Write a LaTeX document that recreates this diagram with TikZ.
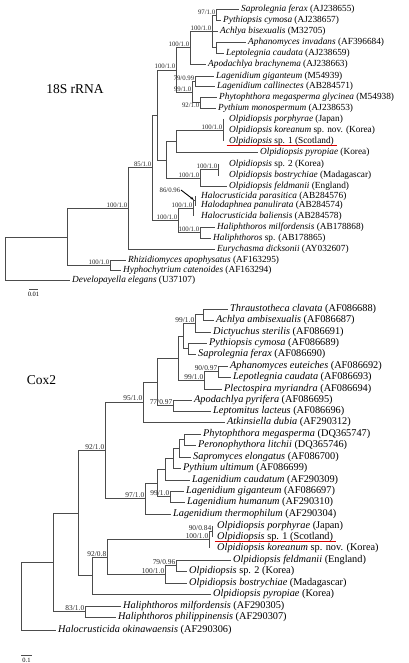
\documentclass[tikz,border=0pt]{standalone}
\usepackage{fontspec}
\setmainfont{Liberation Serif}
\usetikzlibrary{arrows.meta}

\begin{document}
\begin{tikzpicture}[x=1pt, y=-1pt,
  br/.style = {draw=black!70, line width=0.55pt},
  taxon/.style = {anchor=west, inner xsep=2.5pt, inner ysep=0pt,
    font=\fontsize{9.3}{11}\selectfont},
  cox/.style = {taxon, font=\fontsize{10.3}{12}\selectfont},
  bs/.style = {anchor=south east, inner sep=0.6pt, text=black!85,
    font=\fontsize{6.8}{8}\selectfont},
  bsc/.style = {bs, font=\fontsize{7.4}{8}\selectfont},
  gene/.style = {font=\fontsize{13.5}{16}\selectfont},
  scl/.style = {font=\fontsize{6.5}{8}\selectfont},
  hilite/.style = {draw=red!85!black, line width=0.6pt}]
\useasboundingbox (0,0) rectangle (408,663);

% ---- 18S rRNA tree ----
\node[gene] (g18) at (75,89) {18S rRNA};

\node[taxon] (sap) at (238.5,9.5) {\textit{Saprolegnia ferax} (AJ238655)};
\node[taxon] (pyt) at (220.5,20.5) {\textit{Pythiopsis cymosa} (AJ238657)};
\node[taxon] (ach) at (217.5,31) {\textit{Achlya bisexualis} (M32705)};
\node[taxon] (aph) at (245.5,42.5) {\textit{Aphanomyces invadans} (AF396684)};
\node[taxon] (lep) at (223.5,53) {\textit{Leptolegnia caudata} (AJ238659)};
\node[taxon] (apo) at (205.5,64) {\textit{Apodachlya brachynema} (AJ238663)};
\node[taxon] (lgi) at (213.5,76) {\textit{Lagenidium giganteum} (M54939)};
\node[taxon] (lca) at (214.5,86.5) {\textit{Lagenidium callinectes} (AB284571)};
\node[taxon] (phy) at (216.5,97) {\textit{Phytophthora megasperma glycinea} (M54938)};
\node[taxon] (pmo) at (215.5,108) {\textit{Pythium monospermum} (AJ238653)};
\node[taxon] (opo) at (226.5,119) {\textit{Olpidiopsis porphyrae} (Japan)};
\node[taxon] (oko) at (226.5,130.5) {\textit{Olpidiopsis koreanum} sp. nov. (Korea)};
\node[taxon] (os1) at (226.5,141.5) {\textit{Olpidiopsis} sp. 1 (Scotland)};
\node[taxon] (opy) at (257.5,152.5) {\textit{Olpidiopsis pyropiae} (Korea)};
\node[taxon] (os2) at (226.5,164) {\textit{Olpidiopsis} sp. 2 (Korea)};
\node[taxon] (obo) at (226.5,175.5) {\textit{Olpidiopsis bostrychiae} (Madagascar)};
\node[taxon] (ofe) at (226.5,186.5) {\textit{Olpidiopsis feldmanii} (England)};
\node[taxon] (hpa) at (198.5,196) {\textit{Halocrusticida parasitica} (AB284576)};
\node[taxon] (hdp) at (198.5,205.5) {\textit{Halodaphnea panulirata} (AB284574)};
\node[taxon] (hba) at (198.5,216) {\textit{Halocrusticida baliensis} (AB284578)};
\node[taxon] (hmi) at (214.5,227) {\textit{Haliphthoros milfordensis} (AB178868)};
\node[taxon] (hsp) at (210.5,238) {\textit{Haliphthoros} sp. (AB178865)};
\node[taxon] (eur) at (214.5,249.5) {\textit{Eurychasma dicksonii} (AY032607)};
\node[taxon] (rhi) at (125.5,260) {\textit{Rhizidiomyces apophysatus} (AF163295)};
\node[taxon] (hyp) at (120.5,270) {\textit{Hyphochytrium catenoides} (AF163294)};
\node[taxon] (dev) at (69.5,280) {\textit{Developayella elegans} (U37107)};

\coordinate (r18) at (5,258.4);
\coordinate (x18) at (67,236.8);
\coordinate (rh) at (110,265);
\coordinate (y18) at (128,208.5);
\coordinate (z18) at (152,167.6);
\coordinate (w18) at (157,114.8);
\coordinate (v18) at (176,69.8);
\coordinate (s1) at (190,47.7);
\coordinate (a1) at (212,31.4);
\coordinate (a2) at (216,15);
\coordinate (al) at (216,47.75);
\coordinate (lp) at (192,91.9);
\coordinate (lg) at (195,81.25);
\coordinate (pp) at (200,102.5);
\coordinate (olp) at (166,159.8);
\coordinate (oa) at (176,141.4);
\coordinate (opk) at (223,130.25);
\coordinate (ob) at (200,178.1);
\coordinate (osb) at (218,169.75);
\coordinate (halo) at (178,220.4);
\coordinate (hh) at (193,208.4);
\coordinate (hp) at (195,200.75);
\coordinate (hl) at (200,232.5);

\foreach \p/\c in {r18/x18, x18/y18, x18/rh, y18/z18, z18/w18, z18/halo,
    w18/v18, w18/olp, v18/s1, v18/lp, s1/a1, a1/a2, a1/al, lp/lg, lp/pp,
    olp/oa, olp/ob, oa/opk, ob/osb, halo/hh, halo/hl, hh/hp}
  \draw[br] (\p) |- (\c);
\foreach \p/\c in {a2/sap, a2/pyt, a1/ach, al/aph, al/lep, s1/apo, lg/lgi,
    lg/lca, pp/phy, pp/pmo, oa/opy, ob/ofe, hl/hmi, hl/hsp, y18/eur,
    rh/rhi, rh/hyp, r18/dev}
  \draw[br] (\p) |- (\c.west);
\draw[br] (opk |- opo.west) -- (opk |- os1.west);
\draw[br] (osb |- os2.west) -- (osb |- obo.west);
\draw[br] (hp |- hpa.west) -- (hp |- hdp.west);
\draw[br] (hh) -- (hh |- hba.west);
\draw[hilite] ([yshift=-1.4pt]os1.base west) -- ([yshift=-1.4pt]os1.base east);

\node[bs] at (a2) {97/1.0};
\node[bs] at (a1) {100/1.0};
\node[bs] at (s1) {100/1.0};
\node[bs] at (v18) {100/1.0};
\node[bs] at (lg) {79/0.99};
\node[bs] at (lp) {99/1.0};
\node[bs, anchor=north east] at (pp) {92/1.0};
\node[bs] at (opk) {100/1.0};
\node[bs] at (osb) {100/1.0};
\node[bs] at (ob) {100/1.0};
\node[bs, anchor=east] (b86) at (181,190) {86/0.96};
\draw[-{Stealth[length=3.5pt,width=2.6pt]}, line width=0.9pt, shorten >=1.5pt]
  (b86.east) -- (hp);
\node[bs] at (hh) {100/1.0};
\node[bs] at (halo) {100/1.0};
\node[bs] at (hl) {100/1.0};
\node[bs] at (z18) {85/1.0};
\node[bs] at (y18) {100/1.0};
\node[bs] at (rh) {100/1.0};

\coordinate (bar1a) at (29,289);
\coordinate (bar1b) at (38,289);
\draw[br] (bar1a) -- (bar1b);
\node[scl] (sc18) at (33.5,294.5) {0.01};

% ---- Cox2 tree ----
\node[gene] (gcox) at (41.5,380) {Cox2};

\node[cox] (tcl) at (227.5,309) {\textit{Thraustotheca clavata} (AF086688)};
\node[cox] (aam) at (213.5,320) {\textit{Achlya ambisexualis} (AF086687)};
\node[cox] (dst) at (210.5,332) {\textit{Dictyuchus sterilis} (AF086691)};
\node[cox] (pcy) at (206.5,343) {\textit{Pythiopsis cymosa} (AF086689)};
\node[cox] (sfe) at (195.5,354) {\textit{Saprolegnia ferax} (AF086690)};
\node[cox] (aeu) at (227.5,366) {\textit{Aphanomyces euteiches} (AF086692)};
\node[cox] (lcn) at (230.5,377) {\textit{Lepotlegnia caudata} (AF086693)};
\node[cox] (pmy) at (221.5,389) {\textit{Plectospira myriandra} (AF086694)};
\node[cox] (apy) at (191.5,400) {\textit{Apodachlya pyrifera} (AF086695)};
\node[cox] (lla) at (210.5,411) {\textit{Leptomitus lacteus} (AF086696)};
\node[cox] (adu) at (224.5,422) {\textit{Atkinsiella dubia} (AF290312)};
\node[cox] (pme) at (200.5,434) {\textit{Phytophthora megasperma} (DQ365747)};
\node[cox] (pli) at (195.5,445) {\textit{Peronophythora litchii} (DQ365746)};
\node[cox] (sel) at (190.5,457) {\textit{Sapromyces elongatus} (AF086700)};
\node[cox] (pul) at (180.5,468) {\textit{Pythium ultimum} (AF086699)};
\node[cox] (lcd) at (189.5,480) {\textit{Lagenidium caudatum} (AF290309)};
\node[cox] (lgg) at (183.5,491) {\textit{Lagenidium giganteum} (AF086697)};
\node[cox] (lhu) at (184.5,502) {\textit{Lagenidium humanum} (AF290310)};
\node[cox] (lth) at (170.5,514) {\textit{Lagenidium thermophilum} (AF290304)};
\node[cox] (cpo) at (214.5,526) {\textit{Olpidiopsis porphyrae} (Japan)};
\node[cox] (cs1) at (214.5,537) {\textit{Olpidiopsis} sp. 1 (Scotland)};
\node[cox] (cko) at (214.5,548) {\textit{Olpidiopsis koreanum} sp. nov. (Korea)};
\node[cox] (cfe) at (230.5,560) {\textit{Olpidiopsis feldmanii} (England)};
\node[cox] (cs2) at (186.5,571) {\textit{Olpidiopsis} sp. 2 (Korea)};
\node[cox] (cbo) at (186.5,583) {\textit{Olpidiopsis bostrychiae} (Madagascar)};
\node[cox] (cpy) at (210.5,594) {\textit{Olpidiopsis pyropiae} (Korea)};
\node[cox] (cmi) at (120.5,606) {\textit{Haliphthoros milfordensis} (AF290305)};
\node[cox] (cph) at (115.5,617) {\textit{Haliphthoros philippinensis} (AF290307)};
\node[cox] (cok) at (55.5,630) {\textit{Halocrusticida okinawaensis} (AF290306)};

\coordinate (r2) at (21,596.1);
\coordinate (sc7) at (53,562.2);
\coordinate (sc6) at (78,512.9);
\coordinate (sc5) at (105,450.2);
\coordinate (sc4) at (143,401.9);
\coordinate (sc3) at (157,381.8);
\coordinate (sc2) at (178,358.1);
\coordinate (sc1) at (183,335.9);
\coordinate (tad) at (195,323.25);
\coordinate (tha) at (203,314.5);
\coordinate (psa) at (188,348.5);
\coordinate (alpl) at (204,380.25);
\coordinate (alp) at (218,371.5);
\coordinate (alt) at (173,405.5);
\coordinate (ps1) at (145,498.4);
\coordinate (ps2) at (157,482.8);
\coordinate (ps3) at (165,469.1);
\coordinate (ps4) at (173,458.1);
\coordinate (ps5) at (179,448.25);
\coordinate (pph) at (184,439.5);
\coordinate (lgh) at (170,496.5);
\coordinate (cod) at (92,575.5);
\coordinate (coc) at (107,557);
\coordinate (cok2) at (209,539.75);
\coordinate (cps) at (212,531.5);
\coordinate (cob) at (165,574.25);
\coordinate (cfs) at (176,565.5);
\coordinate (chh) at (85,611.5);

\foreach \p/\c in {r2/sc7, sc7/sc6, sc7/chh, sc6/sc5, sc6/cod, sc5/sc4,
    sc5/ps1, sc4/sc3, sc3/sc2, sc3/alt, sc2/sc1, sc2/alpl, sc1/tad, sc1/psa,
    tad/tha, alpl/alp, ps1/ps2, ps2/ps3, ps2/lgh, ps3/ps4, ps4/ps5, ps5/pph,
    cod/coc, coc/cok2, coc/cob, cok2/cps, cob/cfs}
  \draw[br] (\p) |- (\c);
\foreach \p/\c in {tha/tcl, tha/aam, tad/dst, psa/pcy, psa/sfe, alp/aeu,
    alp/lcn, alpl/pmy, alt/apy, alt/lla, sc4/adu, pph/pme, pph/pli, ps5/sel,
    ps4/pul, ps3/lcd, lgh/lgg, lgh/lhu, ps1/lth, cfs/cfe, cfs/cs2, cob/cbo,
    cod/cpy, chh/cmi, chh/cph, r2/cok}
  \draw[br] (\p) |- (\c.west);
\draw[br] (cps |- cpo.west) -- (cps |- cs1.west);
\draw[br] (cok2) -- (cok2 |- cko.west);
\draw[hilite] ([yshift=-1.5pt]cs1.base west) -- ([yshift=-1.5pt]cs1.base east);

\node[bsc] at (tad) {99/1.0};
\node[bsc] at (alp) {90/0.97};
\node[bsc] at (alpl) {99/1.0};
\node[bsc] at (alt) {77/0.97};
\node[bsc] at (sc4) {95/1.0};
\node[bsc] at (sc5) {92/1.0};
\node[bsc] at (ps1) {97/1.0};
\node[bsc] at (lgh) {99/1.0};
\node[bsc] at (cps) {90/0.84};
\node[bsc] at (cok2) {100/1.0};
\node[bsc] at (cfs) {79/0.96};
\node[bsc] at (cob) {100/1.0};
\node[bsc] at (coc) {92/0.8};
\node[bsc] at (chh) {83/1.0};

\coordinate (bar2a) at (21,655);
\coordinate (bar2b) at (32,655);
\draw[br] (bar2a) -- (bar2b);
\node[scl] (sc2x) at (26.5,660.5) {0.1};
\end{tikzpicture}
\end{document}
